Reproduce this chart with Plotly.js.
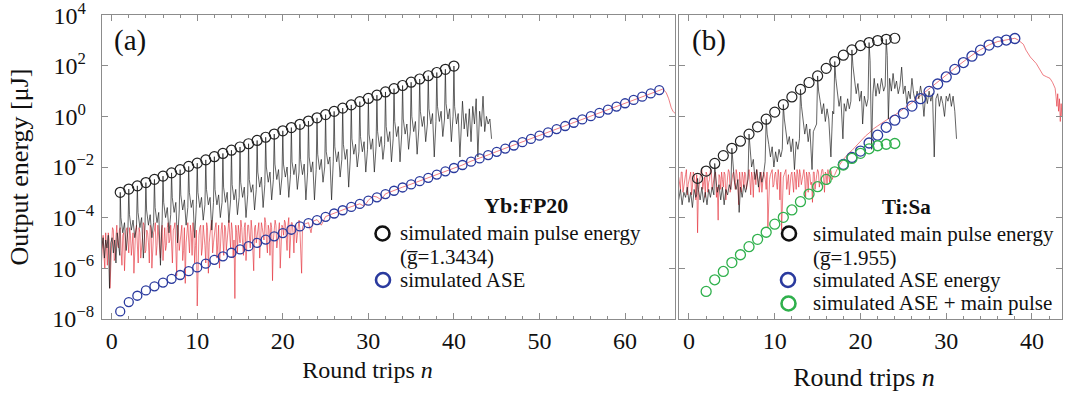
<!DOCTYPE html>
<html><head><meta charset="utf-8">
<script src="https://cdn.plot.ly/plotly-3.0.1.min.js"></script>
<style>html,body{margin:0;padding:0;background:#fff}</style>
</head><body>
<div id="chart" style="width:1068px;height:393px"></div>
<script>
// ---------- Panel (a) Yb:FP20 ----------
var ybMainN = [1,2,3,4,5,6,7,8,9,10,11,12,13,14,15,16,17,18,19,20,21,22,23,24,25,26,27,28,29,30,31,32,33,34,35,36,37,38,39,40];
var ybMainE = [1.0e-3,1.34e-3,1.80e-3,2.42e-3,3.25e-3,4.37e-3,5.86e-3,7.87e-3,1.06e-2,1.42e-2,1.91e-2,2.56e-2,3.44e-2,4.61e-2,6.19e-2,8.32e-2,0.112,0.150,0.201,0.270,0.363,0.488,0.655,0.879,1.18,1.58,2.13,2.86,3.84,5.15,6.92,9.29,12.5,16.7,22.5,30.2,40.6,54.5,73.1,98.2];

var ybAseN = [1,2,3,4,5,6,7,8,9,10,11,12,13,14,15,16,17,18,19,20,21,22,23,24,25,26,27,28,29,30,31,32,33,34,35,36,37,38,39,40,41,42,43,44,45,46,47,48,49,50,51,52,53,54,55,56,57,58,59,60,61,62,63,64];
var ybAseE = [1.95e-8,4.57e-8,8.13e-8,1.32e-7,1.91e-7,2.69e-7,3.80e-7,5.37e-7,7.59e-7,1.07e-6,1.51e-6,2.14e-6,2.95e-6,4.07e-6,5.50e-6,7.41e-6,1.00e-5,1.35e-5,1.82e-5,2.45e-5,3.31e-5,4.47e-5,6.03e-5,7.94e-5,1.07e-4,1.45e-4,1.95e-4,2.63e-4,3.47e-4,4.68e-4,6.31e-4,8.51e-4,1.15e-3,1.55e-3,2.04e-3,2.75e-3,3.72e-3,5.01e-3,6.76e-3,9.12e-3,1.20e-2,1.62e-2,2.19e-2,2.95e-2,3.98e-2,5.37e-2,7.08e-2,9.55e-2,0.129,0.174,0.234,0.316,0.417,0.562,0.759,1.02,1.38,1.86,2.45,3.31,4.47,6.03,8.13,11.0];

var ybRedN = [-1.2,-1.1,-1.0,-0.9,-0.8,-0.7,-0.6,-0.5,-0.4,-0.3,-0.2,-0.1,
0.0,0.1,0.2,0.3,0.4,0.5,0.6,0.7,0.8,0.9, 1.0,1.1,1.2,1.3,1.4,1.5,1.6,1.7,1.8,1.9,
2.0,2.1,2.2,2.3,2.4,2.5,2.6,2.7,2.8,2.9, 3.0,3.1,3.2,3.3,3.4,3.5,3.6,3.7,3.8,3.9,
4.0,4.1,4.2,4.3,4.4,4.5,4.6,4.7,4.8,4.9, 5.0,5.1,5.2,5.3,5.4,5.5,5.6,5.7,5.8,5.9,
6.0,6.1,6.2,6.3,6.4,6.5,6.6,6.7,6.8,6.9, 7.0,7.1,7.2,7.3,7.4,7.5,7.6,7.7,7.8,7.9,
8.0,8.1,8.2,8.3,8.4,8.5,8.6,8.7,8.8,8.9, 9.0,9.1,9.2,9.3,9.4,9.5,9.6,9.7,9.8,9.9,
10.0,10.1,10.2,10.3,10.4,10.5,10.6,10.7,10.8,10.9, 11.0,11.1,11.2,11.3,11.4,11.5,11.6,11.7,11.8,11.9,
12.0,12.1,12.2,12.3,12.4,12.5,12.6,12.7,12.8,12.9, 13.0,13.1,13.2,13.3,13.4,13.5,13.6,13.7,13.8,13.9,
14.0,14.1,14.2,14.3,14.4,14.5,14.6,14.7,14.8,14.9, 15.0,15.1,15.2,15.3,15.4,15.5,15.6,15.7,15.8,15.9,
16.0,16.1,16.2,16.3,16.4,16.5,16.6,16.7,16.8,16.9, 17.0,17.1,17.2,17.3,17.4,17.5,17.6,17.7,17.8,17.9,
18.0,18.1,18.2,18.3,18.4,18.5,18.6,18.7,18.8,18.9, 19.0,19.1,19.2,19.3,19.4,19.5,19.6,19.7,19.8,19.9,
20.0,20.1,20.2,20.3,20.4,20.5,20.6,20.7,20.8,20.9, 21.0,21.1,21.2,21.3,21.4,21.5,21.6,21.7,21.8,21.9,
22.0,22.1,22.2,22.3,22.4,
22.6,23.0,23.3,23.5,24.0,24.5,25,26,27,28,29,29.5,30,30.5,31,31.5,32,33,34,35,36,37,38,39,40,41,42,43,44,45,46,47,48,49,50,51,52,53,54,55,56,57,58,59,60,61,62,63,64,64.4,64.8,65.1,65.4,65.6,65.9,66.2];
var ybRedE = [1.6e-6,1e-5,2e-5,3.2e-6,1e-6,2.5e-5,6.3e-6,1.3e-6,2.5e-5,1.3e-5,1.6e-7,5e-6,
1e-5,4e-5,3.2e-5,2e-6,2.5e-6,1.6e-5,5e-5,7.9e-6,6.3e-6,3.2e-5, 4e-5,5e-6,1.3e-6,2e-5,2.5e-5,7.9e-7,7.9e-6,3.2e-5,4e-5,1e-5,
4e-6,4e-5,2e-5,3.2e-6,1e-5,2.5e-5,6.3e-7,6.3e-6,3.2e-5,5e-5, 7.9e-6,1.6e-6,4e-5,2.5e-5,2.5e-6,1.3e-5,1.6e-5,6.3e-5,5e-5,4e-6,
5e-6,3.2e-5,2.5e-5,1e-5,1.6e-6,5e-5,4e-5,1e-6,1e-5,2.5e-5, 3.2e-5,6.3e-5,3.2e-6,7.9e-6,5e-5,2e-5,1e-5,2.5e-6,2.5e-5,5e-5,
2e-6,1.3e-5,4e-5,5e-6,7.9e-6,4e-5,6.3e-5,1e-5,1.3e-5,5e-5, 4e-6,1.6e-6,3.2e-5,4e-5,6.3e-5,1e-5,5e-7,5e-5,2.5e-5,5e-6,
1e-5,3.2e-5,5e-5,2e-6,5e-6,4e-5,2.5e-7,1e-5,3.2e-5,6.3e-5, 1.3e-5,4e-6,5e-5,2.5e-5,3.2e-6,6.3e-5,2.5e-5,1.6e-6,7.9e-6,3.2e-5,
3.2e-8,1e-5,2e-5,4e-5,5e-5,3.2e-6,6.3e-6,5e-5,2.5e-5,7.9e-6, 1.6e-6,6.3e-5,4e-5,6.3e-7,1e-5,3.2e-5,5e-5,7.9e-5,4e-6,1e-5,
2.5e-5,4e-5,6.3e-5,2.5e-6,1e-5,5e-5,1e-6,1.6e-5,3.2e-5,6.3e-5, 1.3e-5,3.2e-6,5e-5,4e-5,5e-6,1e-5,3.2e-5,7.9e-5,1.3e-5,6.3e-6,
6.3e-5,3.2e-5,2.5e-6,1.3e-5,6.3e-8,5e-5,2.5e-5,4e-6,5e-5,2.5e-5, 1e-5,7.9e-5,4e-5,1e-5,3.2e-6,4e-5,6.3e-5,2e-6,1.6e-5,5e-5,
5e-5,2e-5,6.3e-6,7.9e-5,3.2e-5,5e-6,7.9e-7,4e-5,5e-5,1e-5, 2e-5,5e-5,6.3e-5,2.5e-6,1e-5,6.3e-5,4e-5,2e-5,1.3e-5,1e-4,
6.3e-5,1e-5,4e-6,5e-5,3.2e-5,3.2e-6,6.3e-5,4e-5,3.2e-7,1.3e-5, 2.5e-5,7.9e-5,5e-5,6.3e-6,1.3e-5,4e-5,6.3e-5,1e-6,6.3e-6,5e-5,
4e-5,2e-5,7.9e-5,6.3e-5,1.6e-5,5e-6,5e-5,1e-4,2.5e-6,2.5e-5, 6.3e-5,6.3e-5,2.5e-5,4e-6,5e-5,5e-5,1e-5,2e-5,6.3e-5,7.9e-5,
3.2e-5,7.9e-6,6.3e-7,4e-5,5e-5,
5.6e-5,6.3e-5,2.5e-5,7.1e-5,8.3e-5,5e-5,1.1e-4,1.5e-4,2e-4,2.7e-4,3.5e-4,2.8e-4,4.8e-4,7.1e-4,6.5e-4,5e-4,8.7e-4,1.2e-3,1.6e-3,2.1e-3,2.8e-3,3.8e-3,5.1e-3,6.9e-3,9.3e-3,1.2e-2,1.7e-2,2.2e-2,3e-2,4.1e-2,5.5e-2,7.2e-2,9.8e-2,0.13,0.18,0.24,0.32,0.43,0.58,0.78,1.05,1.41,1.9,2.5,3.4,4.6,6.2,8.3,11.2,12,8.9,5,2.2,1.6,1.26,0.8];

var ybBlackN = [-1.2,-1.0,-0.85,-0.7,-0.55,-0.4,-0.25,-0.1,0.05,0.2,0.35,0.5,0.65,0.8,0.95,
1,1.08,1.3,1.5,1.7,1.9, 2,2.08,2.3,2.5,2.7,2.9, 3,3.08,3.3,3.5,3.7,3.9, 4,4.08,4.3,4.5,4.7,4.9,
5,5.08,5.3,5.5,5.7,5.9, 6,6.08,6.3,6.5,6.7,6.9, 7,7.08,7.3,7.5,7.7,7.9, 8,8.08,8.3,8.5,8.7,8.9,
9,9.08,9.3,9.5,9.7,9.9, 10,10.08,10.3,10.5,10.7,10.9, 11,11.08,11.3,11.5,11.7,11.9, 12,12.08,12.3,12.5,12.7,12.9,
13,13.08,13.3,13.5,13.7,13.9, 14,14.08,14.3,14.5,14.7,14.9, 15,15.08,15.3,15.5,15.7,15.9, 16,16.08,16.3,16.5,16.7,16.9,
17,17.08,17.3,17.5,17.7,17.9, 18,18.08,18.3,18.5,18.7,18.9, 19,19.08,19.3,19.5,19.7,19.9, 20,20.08,20.3,20.5,20.7,20.9,
21,21.08,21.3,21.5,21.7,21.9, 22,22.08,22.3,22.5,22.7,22.9, 23,23.08,23.3,23.5,23.7,23.9, 24,24.08,24.3,24.5,24.7,24.9,
25,25.08,25.3,25.5,25.7,25.9, 26,26.08,26.3,26.5,26.7,26.9, 27,27.08,27.3,27.5,27.7,27.9, 28,28.08,28.3,28.5,28.7,28.9,
29,29.08,29.3,29.5,29.7,29.9, 30,30.08,30.3,30.5,30.7,30.9, 31,31.08,31.3,31.5,31.7,31.9, 32,32.08,32.3,32.5,32.7,32.9,
33,33.08,33.3,33.5,33.7,33.9, 34,34.08,34.3,34.5,34.7,34.9, 35,35.08,35.3,35.5,35.7,35.9, 36,36.08,36.3,36.5,36.7,36.9,
37,37.08,37.3,37.5,37.7,37.9, 38,38.08,38.3,38.5,38.7,38.9, 39,39.08,39.3,39.5,39.7,39.9, 40,40.08,40.3,40.5,40.7,40.9,
41,41.2,41.4,41.6,41.8,42,42.2,42.4,42.6,42.8,43,43.2,43.4,43.6,43.8,44,44.2,44.4];
var ybBlackE = [5e-6,1.6e-5,2.5e-6,1.3e-5,6.3e-6,2e-5,1.6e-7,1e-5,1.6e-5,4e-6,1.3e-5,1.6e-6,2.5e-5,7.9e-6,3.2e-6,
1e-3,1e-4,2.5e-5,6.3e-5,5e-6,3.2e-5,
1.34e-3,1.3e-4,3.2e-5,7.9e-5,1.6e-5,4e-5,
1.8e-3,1.6e-4,4e-5,1e-4,2.5e-6,5e-5,
2.42e-3,2e-4,5e-5,1.3e-4,1.6e-5,6.3e-5,
3.25e-3,2.5e-4,6.3e-5,1.6e-4,1.3e-6,7.9e-5,
4.37e-3,4e-4,1e-4,2.5e-4,2.5e-5,1.3e-4,
5.86e-3,6.3e-4,1.6e-4,4e-4,1e-5,2e-4,
7.87e-3,7.9e-4,2e-4,5e-4,5e-5,2.5e-4,
1.06e-2,1e-3,2.5e-4,5e-4,1.6e-5,3.2e-4,
1.42e-2,1e-3,2.5e-4,6.3e-4,7.9e-5,3.2e-4,
1.91e-2,1.3e-3,3.2e-4,6.3e-4,3.2e-5,4e-4,
2.56e-2,1.3e-3,3.2e-4,7.9e-4,1e-4,4e-4,
3.44e-2,1.6e-3,4e-4,1e-3,6.3e-5,5e-4,
4.61e-2,2e-3,5e-4,1.3e-3,1.3e-4,6.3e-4,
6.19e-2,2.5e-3,6.3e-4,1.6e-3,1e-4,7.9e-4,
8.32e-2,3.2e-3,1e-3,2e-3,2e-4,1.3e-3,
0.112,6.3e-3,1.6e-3,4e-3,2.5e-4,2e-3,
0.15,1e-2,2.5e-3,6.3e-3,5e-4,3.2e-3,
0.201,1.3e-2,3.2e-3,7.9e-3,7.9e-4,4e-3,
0.27,1.3e-2,4e-3,1e-2,6.3e-4,5e-3,
0.363,1.6e-2,5e-3,1.3e-2,1.3e-3,6.3e-3,
0.488,2e-2,5e-3,1.3e-2,5e-4,6.3e-3,
0.655,2.5e-2,6.3e-3,1.6e-2,5e-4,7.9e-3,
0.879,3.2e-2,7.9e-3,2e-2,2.5e-3,1e-2,
1.18,4e-2,1.3e-2,2.5e-2,5e-4,1.6e-2,
1.58,6.3e-2,1.6e-2,4e-2,4e-3,2e-2,
2.13,7.9e-2,2e-2,5e-2,1.6e-3,2.5e-2,
2.86,0.13,3.2e-2,7.9e-2,1e-2,4e-2,
3.84,0.16,4e-2,0.1,6.3e-3,5e-2,
5.15,0.2,5e-2,0.13,6.3e-3,6.3e-2,
6.92,0.25,6.3e-2,0.16,2e-2,7.9e-2,
9.29,0.4,0.1,0.25,1.6e-2,0.13,
12.5,0.63,0.16,0.4,1.6e-2,0.2,
16.7,0.79,0.2,0.5,5e-2,0.25,
22.5,1,0.25,0.63,3.2e-2,0.32,
30.2,1.6,0.4,1,0.1,0.5,
40.6,2,0.5,1.3,2.5e-2,0.63,
54.5,2.5,0.63,1.6,0.16,0.79,
73.1,3.2,0.79,2,0.1,1,
98.2,2.5,0.5,1.3,2.5e-2,0.63,
4,0.32,1.3,0.16,2,0.1,2.5,0.5,5,2.5e-2,1.6,0.4,6.3,0.25,1,0.5,0.79,0.13];

// ---------- Panel (b) Ti:Sa ----------
var tiMainN = [1,2,3,4,5,6,7,8,9,10,11,12,13,14,15,16,17,18,19,20,21,22,23,24];
var tiMainE = [3.55e-3,6.92e-3,1.38e-2,2.82e-2,5.5e-2,0.105,0.2,0.389,0.776,1.48,2.95,5.89,11.7,21.9,39.8,79.4,148,263,427,631,832,1000,1122,1230];

var tiAseN = [18,19,20,21,22,23,24,25,26,27,28,29,30,31,32,33,34,35,36,37,38];
var tiAseE = [1.26e-2,2.4e-2,4.27e-2,8.91e-2,0.182,0.372,0.708,1.32,2.57,5.01,9.77,19.1,36.3,72.4,135,240,417,661,891,1047,1202];

var tiSumN = [2,3,4,5,6,7,8,9,10,11,12,13,14,15,16,17,18,19,20,21,22,23,24];
var tiSumE = [1.2e-7,3.47e-7,7.41e-7,1.66e-6,3.39e-6,7.08e-6,1.38e-5,2.63e-5,5.5e-5,1.02e-4,2.0e-4,4.27e-4,8.51e-4,1.66e-3,3.24e-3,6.46e-3,1.2e-2,2.19e-2,3.47e-2,5.25e-2,6.92e-2,7.94e-2,8.51e-2];

var tiRedN = [-1.2,-1.1,-1.0,-0.9,-0.8,-0.7,-0.6,-0.5,-0.4,-0.3,-0.2,-0.1,
0.0,0.1,0.2,0.3,0.4,0.5,0.6,0.7,0.8,0.9, 1.0,1.1,1.2,1.3,1.4,1.5,1.6,1.7,1.8,1.9,
2.0,2.1,2.2,2.3,2.4,2.5,2.6,2.7,2.8,2.9, 3.0,3.1,3.2,3.3,3.4,3.5,3.6,3.7,3.8,3.9,
4.0,4.1,4.2,4.3,4.4,4.5,4.6,4.7,4.8,4.9, 5.0,5.1,5.2,5.3,5.4,5.5,5.6,5.7,5.8,5.9,
6.0,6.1,6.2,6.3,6.4,6.5,6.6,6.7,6.8,6.9, 7.0,7.1,7.2,7.3,7.4,7.5,7.6,7.7,7.8,7.9,
8.0,8.1,8.2,8.3,8.4,8.5,8.6,8.7,8.8,8.9, 9.0,9.1,9.2,9.3,9.4,9.5,9.6,9.7,9.8,9.9,
10.0,10.1,10.2,10.3,10.4,10.5,10.6,10.7,10.8,10.9, 11.0,11.1,11.2,11.3,11.4,11.5,11.6,11.7,11.8,11.9,
12.0,12.1,12.2,12.3,12.4,12.5,12.6,12.7,12.8,12.9, 13.0,13.1,13.2,13.3,13.4,13.5,13.6,13.7,13.8,13.9,
14.0,14.1,14.2,14.3,14.4,14.5,14.6,14.7,14.8,14.9, 15.0,15.1,15.2,15.3,15.4,15.5,15.6,15.7,15.8,15.9,
16.0,16.1,16.2,16.3,16.4,16.5,16.6,16.7,16.8,
17.0,17.4,17.8,18.2,18.6,19.0,19.4,19.8,20.2,20.6,21.0,21.5,22.0,22.5,23,24,25,26,27,28,29,30,31,32,33,34,35,36,37,38,
38.4,39.0,39.3,39.8,40.5,41.0,41.3,41.7,42.1,42.4,42.6,42.7,42.8,42.9,43.0,43.1,43.2,43.3,43.4,43.5,43.6,43.7];
var tiRedE = [4e-3,2.5e-3,1.3e-3,6.3e-3,6.3e-3,1e-3,2e-3,4e-3,5e-3,7.9e-3,7.9e-4,2e-3,
3.2e-3,5e-3,6.3e-3,7.9e-4,1.6e-3,6.3e-3,5e-3,2.5e-3,5e-4,5e-3, 2.5e-5,1e-3,2.5e-3,4e-3,6.3e-3,7.9e-3,1.3e-3,2.5e-3,4e-3,6.3e-4,
6.3e-3,5e-3,1e-3,2.5e-3,3.2e-3,7.9e-3,7.9e-3,1.3e-3,2e-3,4e-3, 5e-3,6.3e-3,6.3e-4,1.6e-3,7.9e-5,5e-3,4e-3,1.3e-3,6.3e-3,3.2e-3,
1.6e-3,6.3e-3,5e-3,5e-4,2.5e-3,4e-3,7.9e-3,6.3e-3,1e-3,2e-3, 4e-3,5e-3,6.3e-3,2.5e-3,1.3e-3,7.9e-3,5e-3,1.6e-3,3.2e-4,6.3e-3,
3.2e-3,1e-3,6.3e-3,4e-3,1.6e-3,6.3e-3,5e-3,1.3e-3,2.5e-3,5e-3, 7.9e-3,3.2e-3,7.9e-4,6.3e-3,4e-3,6.3e-4,6.3e-3,5e-3,2e-3,7.9e-3,
5e-3,2.5e-3,1e-3,4e-3,6.3e-3,1e-3,2.5e-3,6.3e-3,5e-3,3.2e-3, 1.3e-3,6.3e-3,4e-5,1.6e-3,3.2e-3,5e-3,6.3e-3,7.9e-3,1.6e-3,2e-3,
5e-3,6.3e-3,2.5e-3,1.3e-3,7.9e-3,4e-3,5e-4,6.3e-3,3.2e-5,1.6e-3, 4e-3,5e-3,6.3e-3,7.9e-3,1.3e-3,2.5e-3,5e-3,7.9e-4,2.5e-3,5e-3,
6.3e-3,3.2e-3,1e-3,6.3e-3,4e-3,1.3e-3,7.9e-3,5e-3,1.6e-3,7.9e-3, 5e-3,2e-3,3.2e-3,6.3e-3,7.9e-3,3.2e-3,6.3e-4,6.3e-3,4e-3,1e-3,
6.3e-3,5e-3,2e-3,2.5e-3,4e-4,6.3e-3,6.3e-3,1.3e-3,3.2e-3,5e-3, 7.9e-3,6.3e-3,1.6e-3,2.5e-3,5e-3,7.9e-3,7.9e-3,4e-3,1e-3,6.3e-3,
5e-3,2e-3,7.9e-3,5e-3,2.5e-3,7.9e-3,6.3e-3,3.2e-3,4e-3,
5e-3,1e-2,1.6e-2,2.5e-2,3.5e-2,4.5e-2,6.3e-2,8.9e-2,0.13,0.17,0.22,0.32,0.42,0.56,0.71,1.12,1.9,3.5,6.6,12,23,43,81,151,263,437,676,912,1096,1230,
1047,708,417,224,123,63,43,37,32,22,16,13,6.3,2.5,7.9,1.6,5,0.63,3.2,1,4,1.26];

var tiBlackN = [-1.2,-1.0,-0.8,-0.6,-0.4,-0.2,0.0,0.2,0.4,0.6,0.8,
0.9,1.0,1.1,1.3,1.5,1.7,1.9,2.1,2.3,2.5,2.7,
2.9,3.0,3.12,3.3,3.5,3.7,3.9,4.1,4.3,4.5,4.7,
4.88,5.0,5.12,5.3,5.5,5.7,5.85,6.0,6.2,6.4,6.6,6.8,
6.88,7.0,7.12,7.3,7.5,7.7,7.9,8.1,8.3,8.5,8.7,
8.88,9.0,9.12,9.3,9.5,9.7,9.9,10.1,10.3,10.5,10.7,
10.88,11.0,11.12,11.3,11.5,11.7,11.9,12.1,12.3,12.5,12.7,
12.88,13.0,13.12,13.3,13.5,13.7,13.9,14.1,14.35,14.5,14.7,
14.88,15.0,15.12,15.3,15.5,15.7,15.9,16.1,16.3,16.55,16.75,
16.88,17.0,17.12,17.3,17.5,17.7,17.95,18.1,18.3,18.5,18.7,
18.88,19.0,19.12,19.3,19.5,19.7,19.9,20.1,20.25,20.45,20.7,
20.88,21.0,21.12,21.3,21.45,21.6,21.8,22.0,22.2,22.45,22.7,
22.88,23.0,23.12,23.25,23.4,23.6,23.8,24.0,24.2,24.4,24.6,24.8,
25.0,25.2,25.4,25.6,25.8,26.0,26.2,26.4,26.6,26.8,27.0,27.2,27.4,27.6,27.8,28.0,28.2,28.4,28.6,28.8,29.0,29.2,29.4,29.6,29.8,30.0,30.2,30.4,30.6,30.8,31.0,31.2];
var tiBlackE = [5e-4,1.3e-3,3.2e-4,1e-3,6.3e-4,1.6e-3,4e-4,1e-3,2.5e-4,1.3e-3,6.3e-4,
7.9e-4,3.55e-3,1.3e-3,5e-4,1.6e-3,4e-4,1e-3,3.2e-4,1.3e-3,6.3e-4,1.6e-3,
7.9e-4,1.38e-2,4e-3,1e-3,2e-3,5e-4,1.6e-3,3.2e-4,1.3e-3,7.9e-4,2e-3,
1.3e-3,5.5e-2,1.3e-2,2.5e-3,1.3e-3,3.2e-3,1.6e-4,1.6e-3,6.3e-4,2e-3,1e-3,2e-3,
3.2e-3,0.2,4e-2,1e-2,2e-2,3.2e-3,7.9e-3,1.6e-3,6.3e-3,2.5e-3,5e-3,
1.6e-2,0.78,0.2,7.9e-2,2.5e-2,6.3e-2,1e-2,4e-2,1.6e-2,5e-2,2.5e-2,
5e-2,2.95,0.79,0.25,7.9e-2,0.16,4e-2,0.13,7.9e-3,0.1,5e-2,
0.13,11.7,2.5,0.63,0.2,0.5,0.1,0.32,7.9e-3,0.25,0.4,
0.5,39.8,10,4,1.26,3.2,0.63,2,0.79,2.5e-2,1.6,
1.26,148,32,7.9,2.5,6.3,0.13,3.2,1.6,5,2,
4,427,100,32,7.9,20,4,10,0.5,6.3,2.5,
5,832,158,5e-2,7.9,32,6.3,20,7.9,32,10,
16,1122,251,0.79,32,10,50,12.6,25,7.9,16,89,
7.9,16,3.2,10,5,32,7.9,4,10,5,16,6.3,1,7.9,3.2,10,4,7.9,2.5e-2,5,7.9,2.5,6.3,3.2,1,6.3,4,7.9,2.5,6.3,1.6,0.13];

// legend / panel texts
var ybLegendText = ['simulated main pulse energy', '(g\u0305=1.3434)', 'simulated ASE'];
var tiLegendText = ['simulated main pulse energy', '(g\u0305=1.955)', 'simulated ASE energy', 'simulated ASE + main pulse'];

// ---------- styles ----------
var FONT = 'Liberation Serif, Times New Roman, serif';
var RED = 'rgba(226,38,48,0.75)';
var BLK = 'rgba(25,25,25,0.85)';
var BLUE = '#2a3a9e';
var GREEN = '#2fb04c';
var CIRC_BLK = '#222222';
var PAD = '\u00a0\u00a0\u200b';   // trailing pad kept by a zero-width char

var traces = [
  {x: ybRedN, y: ybRedE, xaxis:'x', yaxis:'y', mode:'lines', line:{color:RED, width:0.8}, hoverinfo:'skip'},
  {x: ybBlackN, y: ybBlackE, xaxis:'x', yaxis:'y', mode:'lines', line:{color:BLK, width:0.8}, hoverinfo:'skip'},
  {x: ybAseN, y: ybAseE, xaxis:'x', yaxis:'y', mode:'markers', marker:{symbol:'circle-open', size:9, color:BLUE, line:{width:1.3}}},
  {x: ybMainN, y: ybMainE, xaxis:'x', yaxis:'y', mode:'markers', marker:{symbol:'circle-open', size:10, color:CIRC_BLK, line:{width:1.2}}},

  {x: tiRedN, y: tiRedE, xaxis:'x2', yaxis:'y2', mode:'lines', line:{color:RED, width:0.8}, hoverinfo:'skip'},
  {x: tiBlackN, y: tiBlackE, xaxis:'x2', yaxis:'y2', mode:'lines', line:{color:BLK, width:0.8}, hoverinfo:'skip'},
  {x: tiAseN, y: tiAseE, xaxis:'x2', yaxis:'y2', mode:'markers', marker:{symbol:'circle-open', size:10, color:BLUE, line:{width:1.3}}},
  {x: tiSumN, y: tiSumE, xaxis:'x2', yaxis:'y2', mode:'markers', marker:{symbol:'circle-open', size:10, color:GREEN, line:{width:1.3}}},
  {x: tiMainN, y: tiMainE, xaxis:'x2', yaxis:'y2', mode:'markers', marker:{symbol:'circle-open', size:10, color:CIRC_BLK, line:{width:1.2}}}
];

var yTickVals = [1e-8,1e-6,1e-4,1e-2,1,1e2,1e4];
var yTickText = ['10<sup>\u22128</sup>','10<sup>\u22126</sup>','10<sup>\u22124</sup>','10<sup>\u22122</sup>','10<sup>0'+PAD+'</sup>','10<sup>2'+PAD+'</sup>','10<sup>4'+PAD+'</sup>'];

var axisBase = {showline:true, linecolor:'#8c8c8c', linewidth:1, mirror:'ticks', ticks:'inside', ticklen:6, tickwidth:1, tickcolor:'#8c8c8c', showgrid:false, zeroline:false};
function ax(extra){ var o = {}; for (var k in axisBase) o[k]=axisBase[k]; for (var k2 in extra) o[k2]=extra[k2]; return o; }

// paper-coordinate helpers for the hand-drawn legends (pixel -> paper)
function px(v){ return (v-102)/960; }
function py(v){ return 1-(v-15)/304; }
function legendKey(cx, cy, color){
  return {type:'circle', xref:'paper', yref:'paper', x0:px(cx-7), x1:px(cx+7), y0:py(cy+7), y1:py(cy-7), line:{color:color, width:2.6}, fillcolor:'rgba(0,0,0,0)'};
}
function legendLabel(text, x, y){
  return {text:text, xref:'paper', yref:'paper', x:px(x), y:py(y), xanchor:'left', yanchor:'middle', showarrow:false, font:{size:21}};
}

var layout = {
  width:1068, height:393,
  margin:{l:102, r:6, t:15, b:74},
  paper_bgcolor:'#ffffff', plot_bgcolor:'#ffffff',
  font:{family:FONT, color:'#111', size:21},
  showlegend:false,
  xaxis: ax({domain:[0,0.5969], range:[-1.13,65.84], tick0:0, dtick:10, tickfont:{size:24},
     minor:{dtick:2, ticks:'inside', ticklen:3, tickcolor:'#8c8c8c', showgrid:false},
     title:{text:'Round trips <i>n</i>\u00a0\u00a0\u00a0\u00a0\u00a0\u00a0\u00a0\u200b', font:{size:24}, standoff:8}, anchor:'y'}),
  xaxis2: ax({domain:[0.601,1], range:[-1.17,43.5], tick0:0, dtick:10, tickfont:{size:24},
     minor:{dtick:2, ticks:'inside', ticklen:3, tickcolor:'#8c8c8c', showgrid:false},
     title:{text:'Round trips <i>n</i>\u00a0\u00a0\u200b', font:{size:26}, standoff:15}, anchor:'y2'}),
  yaxis: ax({type:'log', range:[-8.01,4.01], tickvals:yTickVals, ticktext:yTickText, tickfont:{size:24}, ticklabelstandoff:2, ticklabeloverflow:'allow',
     title:{text:'Output energy [\u03bcJ]', font:{size:26}, standoff:16}, anchor:'x'}),
  yaxis2: ax({type:'log', range:[-8.01,4.01], tickvals:yTickVals, showticklabels:false, anchor:'x2'}),
  shapes:[
    legendKey(382.5, 233.5, '#111'), legendKey(383, 280, BLUE),
    legendKey(789, 233.5, '#111'), legendKey(788, 280, BLUE), legendKey(788.5, 303.5, GREEN)
  ],
  annotations:[
    {text:'(a)', xref:'paper', yref:'paper', x:px(112), y:py(40), xanchor:'left', yanchor:'middle', showarrow:false, font:{size:29}},
    {text:'(b)', xref:'paper', yref:'paper', x:px(690), y:py(40), xanchor:'left', yanchor:'middle', showarrow:false, font:{size:29}},
    {text:'<b>Yb:FP20</b>', xref:'paper', yref:'paper', x:px(525.5), y:py(205), xanchor:'center', yanchor:'middle', showarrow:false, font:{size:22}},
    {text:'<b>Ti:Sa</b>', xref:'paper', yref:'paper', x:px(906), y:py(207), xanchor:'center', yanchor:'middle', showarrow:false, font:{size:21}},
    legendLabel(ybLegendText[0], 398, 233), legendLabel(ybLegendText[1], 398, 257), legendLabel(ybLegendText[2], 398, 280),
    legendLabel(tiLegendText[0], 811, 234), legendLabel(tiLegendText[1], 811, 258), legendLabel(tiLegendText[2], 811, 280), legendLabel(tiLegendText[3], 811, 303)
  ]
};

Plotly.newPlot('chart', traces, layout, {displayModeBar:false, staticPlot:true});
</script>
</body></html>
